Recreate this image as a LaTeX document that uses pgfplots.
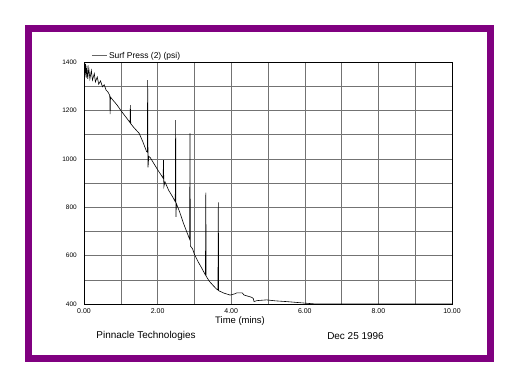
\documentclass[border=0pt]{standalone}
\usepackage{pgfplots}
\pgfplotsset{compat=1.18}
\usepackage{fontspec}
\setmainfont{Liberation Sans}
\definecolor{framepurple}{RGB}{128,0,128}
\begin{document}
\begin{tikzpicture}
\path[use as bounding box, fill=white] (0,0) rectangle (519bp,387bp);
\draw[framepurple, line width=7bp] (28.5bp,28.5bp) rectangle (490bp,358.5bp);
\begin{axis}[
  at={(84bp,83bp)}, anchor=south west,
  scale only axis, width=368bp, height=242bp,
  xmin=0, xmax=10, ymin=400, ymax=1400,
  xtick={0,2,4,6,8,10},
  xticklabels={0.00,2.00,4.00,6.00,8.00,10.00},
  minor xtick={1,3,5,7,9},
  ytick={400,600,800,1000,1200,1400},
  yticklabels={400,600,800,1000,1200,1400},
  minor ytick={500,700,900,1100,1300},
  grid=both,
  major grid style={black!55, line width=0.5bp},
  minor grid style={black!55, line width=0.5bp},
  major tick length=0pt, minor tick length=0pt,
  axis line style={black, line width=0.9bp},
  /pgf/number format/assume math mode=true,
  yticklabel style={font=\fontsize{6.5}{7}\selectfont, inner sep=0pt, anchor=east, xshift=-7bp},
  xticklabel style={font=\fontsize{7}{8}\selectfont, inner sep=0pt, anchor=north, yshift=-4bp},
  xlabel={Time (mins)},
  xlabel style={at={(axis description cs:0.424,-0.07)}, anchor=center, font=\fontsize{9.5}{11}\selectfont, inner sep=0pt},
  legend style={draw=none, fill=none, at={(axis description cs:0.02,1.026)}, anchor=west,
    font=\fontsize{8.5}{10}\selectfont, inner sep=0pt, legend cell align=left},
  legend image code/.code={\draw[black!60, line width=0.5bp] (0bp,0bp) -- (15bp,0bp);},
]
\addplot[black, line width=0.6bp] coordinates {
(0.00,1395) (0.02,1340) (0.04,1392) (0.06,1335) (0.08,1385) (0.10,1330)
(0.13,1375) (0.16,1330) (0.20,1365) (0.23,1325) (0.28,1352) (0.31,1318)
(0.36,1338) (0.40,1308) (0.45,1322) (0.50,1298) (0.55,1306) (0.60,1284)
(0.65,1276) (0.70,1262) (0.71,1185) (0.72,1255) (0.80,1240) (0.90,1222)
(1.00,1200) (1.10,1180) (1.20,1160) (1.25,1150) (1.26,1222) (1.27,1145)
(1.35,1130) (1.50,1105) (1.60,1070) (1.70,1030) (1.72,1028) (1.73,1325)
(1.74,965) (1.76,1010) (1.80,1005) (1.90,980) (2.00,955) (2.10,932)
(2.15,920) (2.16,995) (2.17,885) (2.20,905) (2.30,870) (2.40,845)
(2.48,823) (2.49,1160) (2.50,760) (2.51,815) (2.60,780) (2.70,735)
(2.80,695) (2.87,668) (2.88,1105) (2.89,640) (2.95,628) (3.00,605)
(3.10,575) (3.20,548) (3.30,520) (3.31,860) (3.32,515) (3.40,495)
(3.50,478) (3.60,462) (3.64,458) (3.65,820) (3.66,455) (3.80,445)
(3.97,437) (4.10,442) (4.15,446) (4.30,446) (4.35,437) (4.55,428)
(4.60,423) (4.62,410) (4.70,414) (4.96,417) (5.20,413) (5.50,410)
(6.05,403) (6.30,400) (10.00,400)
};
\addlegendentry{Surf Press (2) (psi)}
\end{axis}
\node[font=\fontsize{10}{12}\selectfont, inner sep=0pt] at (146bp,51bp) {Pinnacle Technologies};
\node[font=\fontsize{10}{12}\selectfont, inner sep=0pt] at (355.5bp,51bp) {Dec 25 1996};
\end{tikzpicture}
\end{document}
